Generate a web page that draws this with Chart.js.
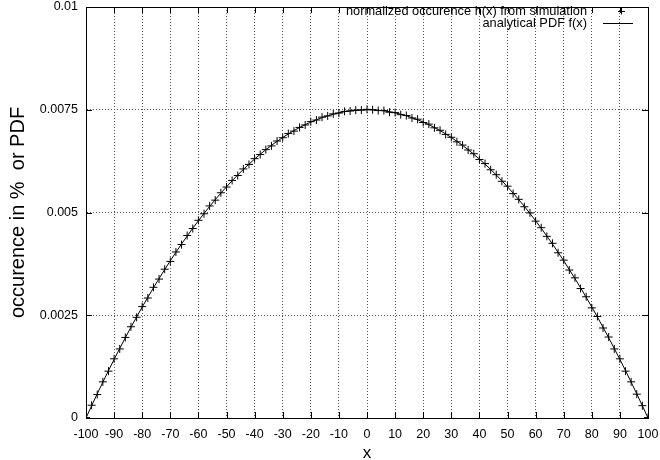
<!DOCTYPE html>
<html>
<head>
<meta charset="utf-8">
<script src="https://cdn.jsdelivr.net/npm/chart.js@4/dist/chart.umd.min.js"></script>
<style>
  html, body { margin: 0; padding: 0; background: #fff; }
  #wrap { width: 660px; height: 460px; }
</style>
</head>
<body>
<div id="wrap"><canvas id="c" width="660" height="460"></canvas></div>
<script>
// x positions of the histogram bins / sampled curve
const xValues = [-100,-98,-96,-94,-92,-90,-88,-86,-84,-82,-80,-78,-76,-74,-72,-70,-68,-66,-64,-62,
  -60,-58,-56,-54,-52,-50,-48,-46,-44,-42,-40,-38,-36,-34,-32,-30,-28,-26,-24,-22,
  -20,-18,-16,-14,-12,-10,-8,-6,-4,-2,0,2,4,6,8,10,12,14,16,18,
  20,22,24,26,28,30,32,34,36,38,40,42,44,46,48,50,52,54,56,58,
  60,62,64,66,68,70,72,74,76,78,80,82,84,86,88,90,92,94,96,98,100];

// normalized occurence h(x) from simulation
const simValues = [0.00001,0.00031,0.00057,0.00088,0.00114,0.00144,0.00168,0.00196,0.00222,0.00245,
  0.00271,0.00292,0.00318,0.00338,0.00362,0.00381,0.00404,0.00422,0.00444,0.00461,
  0.00481,0.00497,0.00516,0.00530,0.00548,0.00562,0.00578,0.00590,0.00606,0.00617,
  0.00631,0.00641,0.00653,0.00662,0.00674,0.00682,0.00692,0.00698,0.00707,0.00713,
  0.00721,0.00725,0.00732,0.00735,0.00740,0.00742,0.00746,0.00747,0.00749,0.00749,
  0.00751,
  0.00750,0.00748,0.00748,0.00744,0.00743,0.00738,0.00736,0.00730,0.00727,0.00719,
  0.00715,0.00706,0.00700,0.00690,0.00683,0.00672,0.00664,0.00652,0.00643,0.00629,
  0.00619,0.00604,0.00592,0.00576,0.00564,0.00546,0.00532,0.00514,0.00499,0.00479,
  0.00463,0.00442,0.00425,0.00402,0.00384,0.00360,0.00341,0.00315,0.00295,0.00268,
  0.00247,0.00219,0.00197,0.00168,0.00144,0.00114,0.00088,0.00058,0.00030,0.00001];

// analytical PDF f(x)
const pdfValues = [0,0.000297,0.000588,0.000873,0.001152,0.001425,0.001692,0.001953,0.002208,0.002457,
  0.0027,0.002937,0.003168,0.003393,0.003612,0.003825,0.004032,0.004233,0.004428,0.004617,
  0.0048,0.004977,0.005148,0.005313,0.005472,0.005625,0.005772,0.005913,0.006048,0.006177,
  0.0063,0.006417,0.006528,0.006633,0.006732,0.006825,0.006912,0.006993,0.007068,0.007137,
  0.0072,0.007257,0.007308,0.007353,0.007392,0.007425,0.007452,0.007473,0.007488,0.007497,
  0.0075,
  0.007497,0.007488,0.007473,0.007452,0.007425,0.007392,0.007353,0.007308,0.007257,0.0072,
  0.007137,0.007068,0.006993,0.006912,0.006825,0.006732,0.006633,0.006528,0.006417,0.0063,
  0.006177,0.006048,0.005913,0.005772,0.005625,0.005472,0.005313,0.005148,0.004977,0.0048,
  0.004617,0.004428,0.004233,0.004032,0.003825,0.003612,0.003393,0.003168,0.002937,0.0027,
  0.002457,0.002208,0.001953,0.001692,0.001425,0.001152,0.000873,0.000588,0.000297,0];

const yTickValues = [0, 0.0025, 0.005, 0.0075, 0.01];
const yTickLabels = ['0', '0.0025', '0.005', '0.0075', '0.01'];
const seriesNames = ['normalized occurence h(x) from simulation', 'analytical PDF f(x)'];
const xTitle = 'x';
const yTitle = 'occurence in %  or PDF';

const FONT = '"Liberation Sans", Arial, Helvetica, sans-serif';

const simData = xValues.map((x, i) => ({ x: x, y: simValues[i] }));
const pdfData = xValues.map((x, i) => ({ x: x, y: pdfValues[i] }));

const framePlugin = {
  id: 'frame',
  afterDraw(chart) {
    const ctx = chart.ctx;
    const a = chart.chartArea;
    const xs = chart.scales.x, ys = chart.scales.y;
    ctx.save();
    ctx.strokeStyle = '#000';
    ctx.lineWidth = 1;
    ctx.beginPath();
    const L = 6;
    xs.ticks.forEach(t => {
      const px = Math.round(xs.getPixelForValue(t.value)) + 0.5;
      ctx.moveTo(px, a.bottom); ctx.lineTo(px, a.bottom - L);
      ctx.moveTo(px, a.top); ctx.lineTo(px, a.top + L);
    });
    ys.ticks.forEach(t => {
      const py = Math.round(ys.getPixelForValue(t.value)) + 0.5;
      ctx.moveTo(a.left, py); ctx.lineTo(a.left + L, py);
      ctx.moveTo(a.right, py); ctx.lineTo(a.right - L, py);
    });
    ctx.stroke();
    ctx.strokeRect(Math.round(a.left) + 0.5, Math.round(a.top) + 0.5,
                   Math.round(a.right - a.left), Math.round(a.bottom - a.top));
    // legend (gnuplot style, top right inside)
    ctx.fillStyle = '#000';
    ctx.font = '12.8px ' + FONT;
    ctx.textAlign = 'right';
    ctx.textBaseline = 'middle';
    const tx = 587;
    const y1 = 11, y2 = 23;
    ctx.fillText(seriesNames[0], tx, y1);
    ctx.fillText(seriesNames[1], tx, y2);
    // cross marker sample
    ctx.beginPath();
    ctx.moveTo(621.5, y1 - 3.5); ctx.lineTo(621.5, y1 + 3.5);
    ctx.moveTo(618, y1 + 0.5); ctx.lineTo(625, y1 + 0.5);
    ctx.stroke();
    // line sample
    ctx.beginPath();
    ctx.moveTo(603, y2 + 0.5); ctx.lineTo(633, y2 + 0.5);
    ctx.stroke();
    ctx.restore();
  }
};

new Chart(document.getElementById('c'), {
  type: 'line',
  data: {
    datasets: [
      {
        label: seriesNames[0],
        data: simData,
        showLine: false,
        pointStyle: 'cross',
        pointRadius: 4,
        pointBorderWidth: 1,
        pointBorderColor: '#000',
        pointBackgroundColor: '#000',
        borderColor: '#000',
        order: 2
      },
      {
        label: seriesNames[1],
        data: pdfData,
        borderColor: '#000',
        borderWidth: 1,
        pointRadius: 0,
        tension: 0,
        fill: false,
        order: 1
      }
    ]
  },
  plugins: [framePlugin],
  options: {
    responsive: false,
    animation: false,
    devicePixelRatio: 1,
    layout: { padding: { top: 7, right: 12, left: 0, bottom: 0 } },
    plugins: { legend: { display: false }, tooltip: { enabled: false } },
    scales: {
      x: {
        type: 'linear',
        min: -100, max: 100,
        afterFit(s) { s.height = 42; s.paddingLeft = 0; s.paddingRight = 0; },
        afterBuildTicks(s) {
          const t = [];
          for (const v of xValues) if (v % 10 === 0) t.push({ value: v });
          s.ticks = t;
        },
        ticks: {
          color: '#000',
          font: { family: FONT, size: 12.5 },
          padding: 9,
          maxRotation: 0,
          autoSkip: false,
          callback: (v) => String(v)
        },
        grid: { color: '#555', drawTicks: false, lineWidth: 1 },
        border: { display: true, color: '#000', width: 1, dash: [1, 2] },
        title: {
          display: true, text: xTitle, color: '#000',
          font: { family: FONT, size: 17, lineHeight: 0.8 },
          padding: { top: 0, bottom: 0 }
        }
      },
      y: {
        type: 'linear',
        min: 0, max: 0.01,
        afterFit(s) { s.width = 86; s.paddingTop = 0; s.paddingBottom = 0; },
        afterBuildTicks(s) { s.ticks = yTickValues.map(v => ({ value: v })); },
        ticks: {
          color: '#000',
          font: { family: FONT, size: 12.5 },
          padding: 8,
          autoSkip: false,
          callback: (v, i) => yTickLabels[i]
        },
        grid: { color: '#555', drawTicks: false, lineWidth: 1 },
        border: { display: true, color: '#000', width: 1, dash: [1, 2] },
        title: {
          display: true, text: yTitle, color: '#000',
          font: { family: FONT, size: 20, lineHeight: 1.2 },
          padding: { top: 6, bottom: 0 }
        }
      }
    }
  }
});
</script>
</body>
</html>
